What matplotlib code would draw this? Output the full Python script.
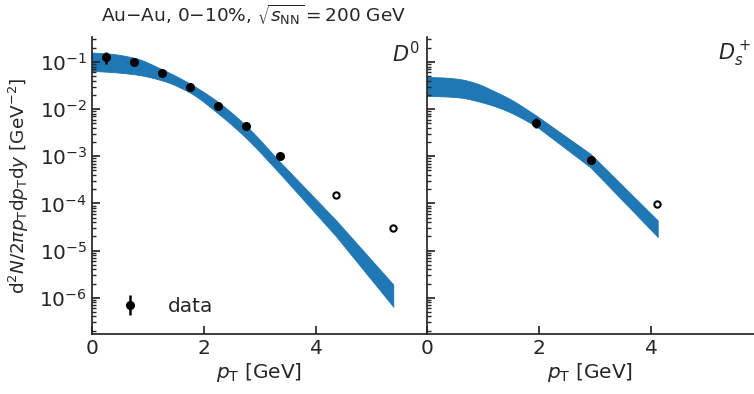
import numpy as np
import matplotlib
matplotlib.use("Agg")
import matplotlib.pyplot as plt

# ---- data ----
# D0 data (filled: used, open: not used)
d0_pt = [0.25, 0.75, 1.25, 1.75, 2.25, 2.75, 3.35]
d0_y = [0.125, 0.100, 0.058, 0.029, 0.0115, 0.0044, 0.0010]
d0_ylo = [0.035, 0.004, 0.002, 0.001, 0.0004, 0.00015, 0.00004]
d0_yhi = [0.040, 0.004, 0.002, 0.001, 0.0004, 0.00015, 0.00004]
d0_open_pt = [4.35, 5.37]
d0_open_y = [1.5e-4, 2.95e-5]

# D0 model band (log10 of upper/lower edges)
d0_band_pt = [0.0, 0.25, 0.75, 1.25, 1.75, 2.25, 2.75, 3.35, 4.36, 5.38]
d0_band_hi = [-0.80, -0.816, -0.91, -1.155, -1.46, -1.846, -2.35, -3.11, -4.36, -5.72]
d0_band_lo = [-1.19, -1.205, -1.26, -1.39, -1.65, -2.09, -2.61, -3.36, -4.70, -6.19]

# Ds data
ds_pt = [1.94, 2.92]
ds_y = [0.0051, 0.00085]
ds_ylo = [0.0011, 0.00004]
ds_yhi = [0.0015, 0.00004]
ds_open_pt = [4.11]
ds_open_y = [9.8e-5]

ds_band_pt = [0.0, 0.3, 0.6, 0.9, 1.19, 1.49, 1.94, 2.92, 4.12]
ds_band_hi = [-1.317, -1.33, -1.366, -1.46, -1.613, -1.79, -2.127, -2.95, -4.36]
ds_band_lo = [-1.72, -1.73, -1.755, -1.83, -1.93, -2.07, -2.353, -3.235, -4.71]

title = r"Au$-$Au, 0$-$10%, $\sqrt{s_{\mathrm{NN}}} = 200$ GeV"
ylabel = r"d$^2N/2\pi p_{\mathrm{T}}$d$p_{\mathrm{T}}$d$y$ [GeV$^{-2}$]"
xlabel = r"$p_{\mathrm{T}}$ [GeV]"

# ---- style ----
dark = "#262626"
plt.rcParams.update({
    "font.family": "DejaVu Sans",
    "font.size": 14.5,
    "text.color": dark,
    "axes.labelcolor": dark,
    "xtick.color": dark,
    "ytick.color": dark,
    "axes.edgecolor": dark,
    "axes.linewidth": 1.25,
    "mathtext.fontset": "dejavusans",
})
band_color = "#1f77b4"

fig = plt.figure(figsize=(7.54, 3.94), dpi=100)
W, H = 754, 394
ax1 = fig.add_axes([92 / W, (H - 334) / H, 335 / W, 297 / H])
ax2 = fig.add_axes([427 / W, (H - 334) / H, (W - 427) / W, 297 / H], sharey=ax1)


def pchip(x, y, xs):
    x = np.asarray(x, float)
    y = np.asarray(y, float)
    h = np.diff(x)
    d = np.diff(y) / h
    n = len(x)
    m = np.zeros(n)
    for k in range(1, n - 1):
        if d[k - 1] * d[k] <= 0:
            m[k] = 0.0
        else:
            w1 = 2 * h[k] + h[k - 1]
            w2 = h[k] + 2 * h[k - 1]
            m[k] = (w1 + w2) / (w1 / d[k - 1] + w2 / d[k])
    m[0] = d[0]
    m[-1] = d[-1]
    idx = np.clip(np.searchsorted(x, xs) - 1, 0, n - 2)
    x0 = x[idx]
    hh = h[idx]
    t = (xs - x0) / hh
    h00 = 2 * t**3 - 3 * t**2 + 1
    h10 = t**3 - 2 * t**2 + t
    h01 = -2 * t**3 + 3 * t**2
    h11 = t**3 - t**2
    return h00 * y[idx] + h10 * hh * m[idx] + h01 * y[idx + 1] + h11 * hh * m[idx + 1]


def band(pt, lo, hi, smooth_to, n=500):
    """Smooth (monotone cubic) up to index smooth_to, straight segments after."""
    pt = np.asarray(pt, float)
    xs = np.linspace(pt[0], pt[-1], n)
    k = smooth_to
    out = []
    for e in (lo, hi):
        e = np.asarray(e, float)
        yl = np.interp(xs, pt, e)
        ys = pchip(pt[:k + 1], e[:k + 1], np.minimum(xs, pt[k]))
        out.append(np.where(xs <= pt[k], ys, yl))
    return xs, 10 ** out[0], 10 ** out[1]


for ax, bpt, blo, bhi, k in [(ax1, d0_band_pt, d0_band_lo, d0_band_hi, 7),
                             (ax2, ds_band_pt, ds_band_lo, ds_band_hi, 6)]:
    xs, lo, hi = band(bpt, blo, bhi, k)
    ax.fill_between(xs, lo, hi, color=band_color, lw=0.6, edgecolor=band_color)

ax1.errorbar(d0_pt, d0_y, yerr=[d0_ylo, d0_yhi], fmt="o", color="black",
             ms=5.5, elinewidth=1.8, capsize=0, label="data", zorder=5)
ax1.plot(d0_open_pt, d0_open_y, "o", mfc="white", mec="black", ms=4.5, mew=1.5, zorder=5)
ax2.errorbar(ds_pt, ds_y, yerr=[ds_ylo, ds_yhi], fmt="o", color="black",
             ms=5.5, elinewidth=1.8, capsize=0, zorder=5)
ax2.plot(ds_open_pt, ds_open_y, "o", mfc="white", mec="black", ms=4.5, mew=1.5, zorder=5)

ax1.set_yscale("log")
ax1.set_ylim(10 ** -6.77, 10 ** -0.47)
ax1.set_xlim(0, 335 / 56)
ax2.set_xlim(0, (W - 427) / 56)

for ax in (ax1, ax2):
    ax.spines["top"].set_visible(False)
    ax.spines["right"].set_visible(False)
    ax.set_xticks([0, 2, 4])
    ax.tick_params(which="major", direction="in", length=6, width=1.25)
    ax.tick_params(which="minor", direction="in", length=3, width=1.0)
    ax.set_xlabel(xlabel)
    ax.xaxis.labelpad = 2

ax2.tick_params(labelleft=False)
ax1.set_ylabel(ylabel, fontsize=13.3)
ax1.yaxis.labelpad = 6
ax1.set_yticks([1e-6, 1e-5, 1e-4, 1e-3, 1e-2, 1e-1])

ax1.text(0.98, 0.985, r"$D^0$", transform=ax1.transAxes, ha="right", va="top", fontsize=15)
ax2.text(0.99, 0.99, r"$D_s^+$", transform=ax2.transAxes, ha="right", va="top", fontsize=15)

fig.text(101 / W, 1 - 15 / H, title, ha="left", va="center", fontsize=13.3)

ax1.legend(loc="lower left", frameon=False, bbox_to_anchor=(0.015, 0.0),
           handlelength=1.5, handletextpad=1.1)

fig.savefig("out.png", dpi=100)
